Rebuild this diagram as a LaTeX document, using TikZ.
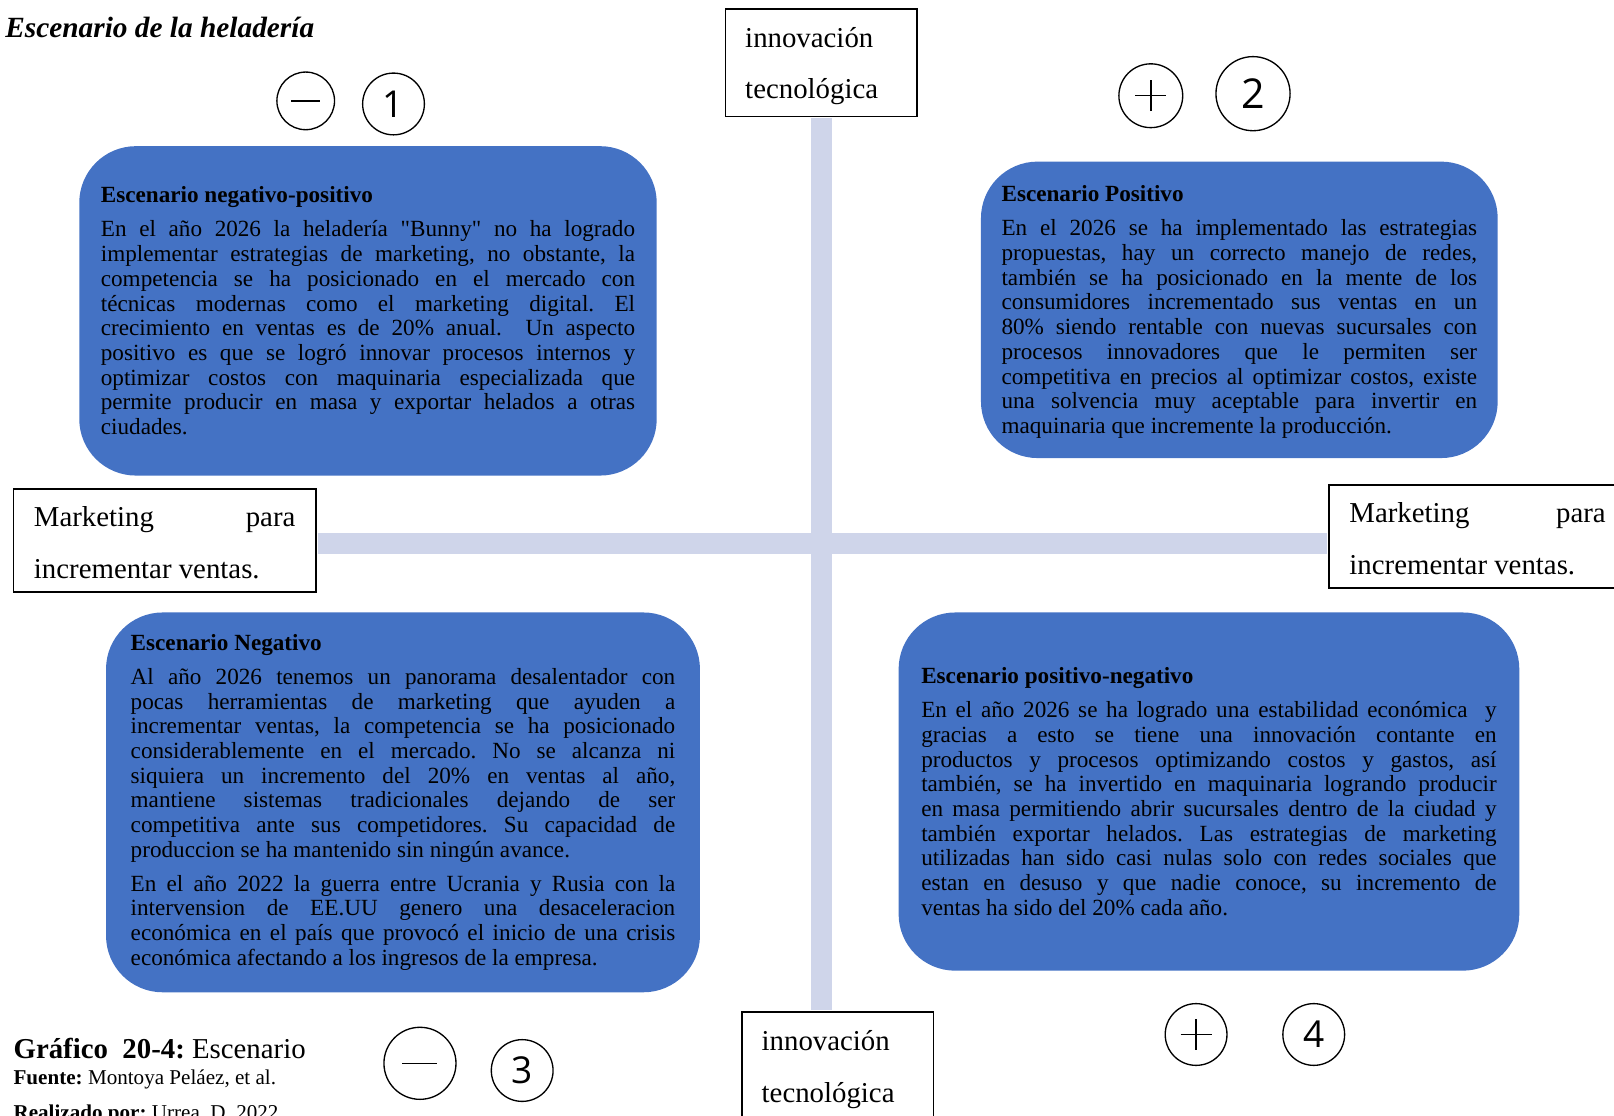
\documentclass[tikz,border=0pt]{standalone}
\usepackage{fontspec}
\setmainfont{Liberation Serif}
\newfontfamily\rawserif{Liberation Serif}
\newfontfamily\numfont{Open Sans}
\usetikzlibrary{positioning}

\definecolor{scenblue}{HTML}{4472C4}
\definecolor{axisgray}{HTML}{CFD5EA}

\tikzset{
  scen/.style={fill=scenblue, rounded corners=55pt, align=justify,
    font=\fontsize{22.5}{24}\selectfont},
  axislabel/.style={draw, line width=1.5pt, fill=white, align=justify,
    inner xsep=20pt, font=\fontsize{28}{50}\selectfont},
  sign/.style={draw, circle, line width=1.3pt, inner sep=0pt,
    font=\numfont\fontsize{36}{36}\selectfont},
  minussign/.style={sign, path picture={
    \draw[line width=1.4pt] ([xshift=-#1]path picture bounding box.center)
      -- ([xshift=#1]path picture bounding box.center);}},
  plussign/.style={sign, path picture={
    \draw[line width=1.4pt] ([xshift=-#1]path picture bounding box.center)
      -- ([xshift=#1]path picture bounding box.center);
    \draw[line width=1.4pt] ([yshift=-#1]path picture bounding box.center)
      -- ([yshift=#1]path picture bounding box.center);}},
  axis/.style={draw=axisgray, line width=20pt,
    shorten <=0.75pt, shorten >=0.75pt}
}

\begin{document}
\begin{tikzpicture}[x=1pt, y=-1pt]
  \useasboundingbox (0,0) rectangle (1568,1084);
  \clip (0,0) rectangle (1568,1084);
  \frenchspacing

  \node[anchor=base west, inner sep=0pt, font=\fontsize{28.5}{30}\selectfont\bfseries\itshape]
    (title) at (5,36) {Escenario de la heladería};

  % axis labels
  \node[axislabel, text width=148pt, inner xsep=19pt, minimum height=104pt, align=left]
    (innotop) at (798,61) {\rule{0pt}{26pt}innovación\\tecnológica};
  \node[axislabel, text width=148pt, inner xsep=19pt, minimum height=104pt, align=left]
    (innobot) at (814,1035) {\rule{0pt}{28pt}innovación\\tecnológica};
  \node[axislabel, text width=254pt, minimum height=100pt]
    (mkleft) at (160,525) {\rule{0pt}{24pt}Marketing para\linebreak incrementar ventas.};
  \node[axislabel, text width=249pt, minimum height=100pt]
    (mkright) at (1435.5,521) {\rule{0pt}{24pt}Marketing para\linebreak incrementar ventas.};

  % the two axes
  \coordinate (origin) at (798,528);
  \draw[axis] (innotop.south) -- (innotop.south |- innobot.north);
  \draw[axis] (mkleft.east |- origin) -- (mkright.west |- origin);

  % scenarios
  \node[scen, text width=519pt, inner xsep=21pt, minimum height=320pt]
    (negpos) at (357.5,302) {\textbf{Escenario negativo-positivo}\par\vspace{9pt}
    En el año 2026 la heladería {\rawserif"}Bunny{\rawserif"} no ha logrado\linebreak
    implementar estrategias de marketing, no obstante, la\linebreak
    competencia se ha posicionado en el mercado con\linebreak
    técnicas modernas como el marketing digital. El\linebreak
    crecimiento en ventas es de 20\% anual.\ \ Un aspecto\linebreak
    positivo es que se logró innovar procesos internos y\linebreak
    optimizar costos con maquinaria especializada que\linebreak
    permite producir en masa y exportar helados a otras\linebreak
    ciudades.};
  \node[scen, text width=462pt, inner xsep=20pt, minimum height=288pt]
    (pospos) at (1204,301) {\rule{0pt}{20pt}\textbf{Escenario Positivo}\par\vspace{9pt}
    En el 2026 se ha implementado las estrategias\linebreak
    propuestas, hay un correcto manejo de redes,\linebreak
    también se ha posicionado en la mente de los\linebreak
    consumidores incrementado sus ventas en un\linebreak
    80\% siendo rentable con nuevas sucursales con\linebreak
    procesos innovadores que le permiten ser\linebreak
    competitiva en precios al optimizar costos, existe\linebreak
    una solvencia muy aceptable para invertir en\linebreak
    maquinaria que incremente la producción.};
  \node[scen, text width=529pt, inner xsep=24pt, minimum height=369pt]
    (negneg) at (391.5,779.5) {\textbf{Escenario Negativo}\par\vspace{9pt}
    Al año 2026 tenemos un panorama desalentador con\linebreak
    pocas herramientas de marketing que ayuden a\linebreak
    incrementar ventas, la competencia se ha posicionado\linebreak
    considerablemente en el mercado. No se alcanza ni\linebreak
    siquiera un incremento del 20\% en ventas al año,\linebreak
    mantiene sistemas tradicionales dejando de ser\linebreak
    competitiva ante sus competidores. Su capacidad de\linebreak
    produccion se ha mantenido sin ningún avance.\par\vspace{9pt}
    En el año 2022 la guerra entre Ucrania y Rusia con la\linebreak
    intervension de EE.UU genero una desaceleracion\linebreak
    económica en el país que provocó el inicio de una crisis\linebreak
    económica afectando a los ingresos de la empresa.};
  \node[scen, text width=559pt, inner xsep=22pt, minimum height=348pt]
    (posneg) at (1174.5,769) {\textbf{Escenario positivo-negativo}\par\vspace{9pt}
    En el año 2026 se ha logrado una estabilidad económica\ \ y\linebreak
    gracias a esto se tiene una innovación contante en\linebreak
    productos y procesos optimizando costos y gastos, así\linebreak
    también, se ha invertido en maquinaria logrando producir\linebreak
    en masa permitiendo abrir sucursales dentro de la ciudad y\linebreak
    también exportar helados. Las estrategias de marketing\linebreak
    utilizadas han sido casi nulas solo con redes sociales que\linebreak
    estan en desuso y que nadie conoce, su incremento de\linebreak
    ventas ha sido del 20\% cada año.};

  % signs and quadrant numbers
  \node[minussign=14pt, minimum size=56pt] (minus-1) at (297,98) {};
  \node[sign, minimum size=60pt, right=26pt of minus-1, yshift=-3pt] (num-1) {1};
  \node[plussign=15pt, minimum size=62pt] (plus-2) at (1118,93) {};
  \node[sign, minimum size=72pt, right=31pt of plus-2, yshift=2pt, font=\numfont\fontsize{40}{40}\selectfont] (num-2) {2};
  \node[minussign=17pt, minimum size=70pt] (minus-3) at (408,1033) {};
  \node[sign, minimum size=60pt, right=33pt of minus-3, yshift=-7pt] (num-3) {3};
  \node[plussign=15pt, minimum size=60pt] (plus-4) at (1162,1005) {};
  \node[sign, minimum size=60pt, right=53pt of plus-4] (num-4) {4};

  % caption
  \node[anchor=base west, inner sep=0pt, font=\fontsize{28}{30}\selectfont]
    (caption) at (13,1028) {\textbf{Gráfico\ \ 20-4:} Escenario};
  \node[anchor=base west, inner sep=0pt, font=\fontsize{20.5}{22}\selectfont]
    (source) at (13,1054) {\textbf{Fuente:} Montoya Peláez, et al.};
  \node[anchor=base west, inner sep=0pt, font=\fontsize{20.5}{22}\selectfont]
    (author) at (13,1088) {\textbf{Realizado por:} Urrea, D. 2022};
\end{tikzpicture}
\end{document}
